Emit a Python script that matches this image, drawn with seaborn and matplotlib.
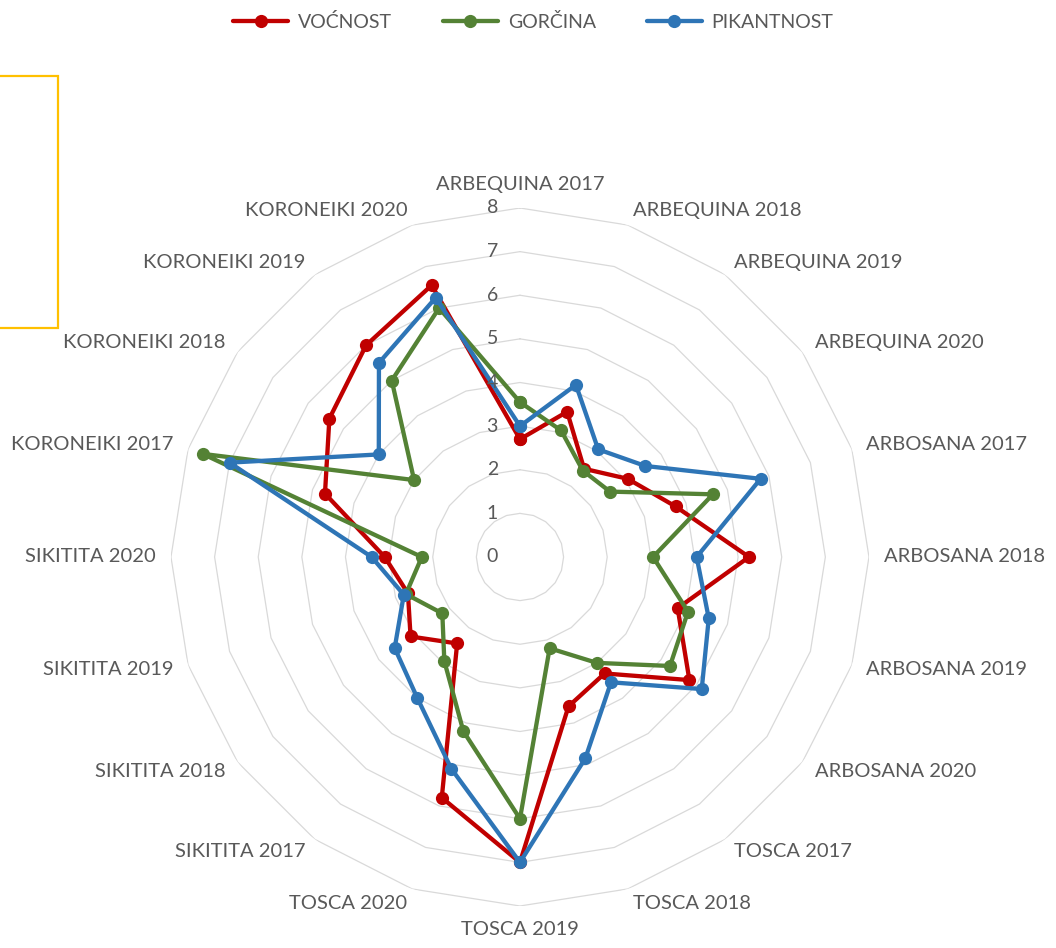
import numpy as np
import pandas as pd
import matplotlib
matplotlib.use("Agg")
import matplotlib.pyplot as plt
import matplotlib.transforms as mtransforms
from matplotlib.patches import Rectangle
import seaborn as sns

categories = [
    "ARBEQUINA 2017", "ARBEQUINA 2018", "ARBEQUINA 2019", "ARBEQUINA 2020",
    "ARBOSANA 2017", "ARBOSANA 2018", "ARBOSANA 2019", "ARBOSANA 2020",
    "TOSCA 2017", "TOSCA 2018", "TOSCA 2019", "TOSCA 2020",
    "SIKITITA 2017", "SIKITITA 2018", "SIKITITA 2019", "SIKITITA 2020",
    "KORONEIKI 2017", "KORONEIKI 2018", "KORONEIKI 2019", "KORONEIKI 2020",
]
vocnost = [2.7, 3.5, 2.5, 3.05, 3.75, 5.25, 3.8, 4.8, 3.3, 3.6,
           7.0, 5.8, 2.45, 3.1, 2.7, 3.1, 4.7, 5.4, 6.0, 6.55]
gorcina = [3.55, 3.05, 2.45, 2.55, 4.65, 3.05, 4.05, 4.25, 3.0, 2.2,
           6.0, 4.2, 2.95, 2.2, 2.75, 2.25, 7.65, 3.0, 5.0, 6.0]
pikantnost = [3.0, 4.15, 3.05, 3.55, 5.8, 4.05, 4.55, 5.15, 3.55, 4.85,
              7.0, 5.1, 4.0, 3.55, 2.8, 3.4, 7.0, 4.0, 5.5, 6.25]
series_names = ["VOĆNOST", "GORČINA", "PIKANTNOST"]
series_values = [vocnost, gorcina, pikantnost]
colors = ["#C00000", "#548235", "#2E75B6"]
r_ticks = list(range(0, 9))

sns.set_theme(style="white")
plt.rcParams["font.family"] = ["Lato", "DejaVu Sans"]
text_color = "#595959"

n = len(categories)
angles = np.arange(n) * 2 * np.pi / n
angles_closed = np.append(angles, 2 * np.pi)

fig = plt.figure(figsize=(10.56, 9.48), dpi=100)
ax = fig.add_axes([0.1619, 0.0443, 0.661, 0.7363], projection="polar")
ax.set_theta_zero_location("N")
ax.set_theta_direction(-1)

# polygon grid
for r in r_ticks[1:]:
    ax.plot(angles_closed, [r] * (n + 1), color="#D9D9D9", lw=0.9, zorder=0)

for name, vals, col in zip(series_names, series_values, colors):
    df = pd.DataFrame({"theta": angles_closed, "value": list(vals) + [vals[0]]})
    sns.lineplot(data=df, x="theta", y="value", ax=ax, sort=False, estimator=None,
                 color=col, lw=3.1, marker="o", markersize=9.5, markeredgewidth=0,
                 label=name, legend=False)

ax.set_ylim(0, 8)
ax.set_xticks([])
ax.set_yticks([])
ax.set_xlabel("")
ax.set_ylabel("")
ax.grid(False)
ax.spines["polar"].set_visible(False)
ax.patch.set_alpha(0)

# value labels
off = mtransforms.offset_copy(ax.transData, fig=fig, x=-22, y=0, units="dots")
for r in r_ticks:
    ax.text(0, r, str(r), transform=off, ha="right", va="center",
            fontsize=14, color=text_color)

# category labels
for a, lab in zip(angles, categories):
    s, c = np.sin(a), np.cos(a)
    ha = "left" if s > 0.1 else ("right" if s < -0.1 else "center")
    va = "center"
    if abs(s) < 0.1:
        va = "bottom" if c > 0 else "top"
    ax.text(a, 8.35, lab, ha=ha, va=va, fontsize=14.5, color=text_color)

handles, labels = ax.get_legend_handles_labels()
fig.legend(handles, labels, loc="center", bbox_to_anchor=(0.505, 0.977), ncol=3,
           frameon=False, fontsize=14, handlelength=2.85, columnspacing=2.6,
           handletextpad=0.5, labelcolor=text_color)

fig.patches.append(Rectangle((-0.01, 0.654), 0.0645, 0.266, transform=fig.transFigure,
                             fill=False, edgecolor="#FFC000", lw=1.6, figure=fig))

fig.savefig("out.png", dpi=100)
